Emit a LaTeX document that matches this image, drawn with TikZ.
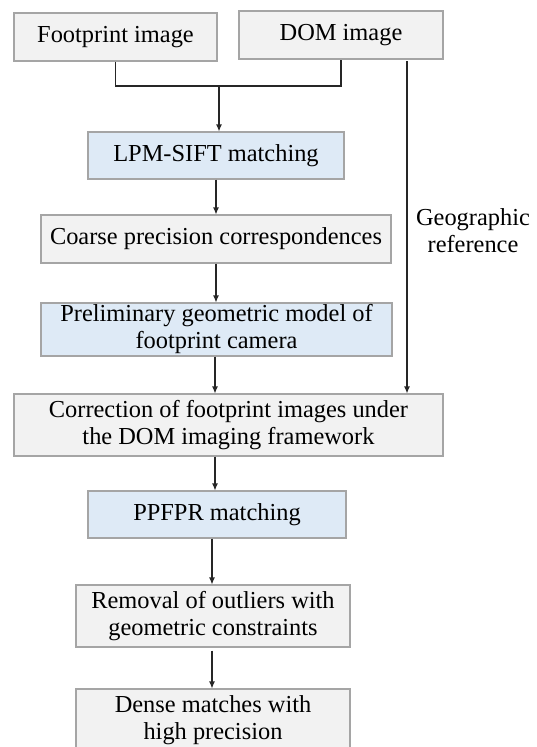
\documentclass[tikz,border=0pt]{standalone}
\usepackage{fontspec}
\setmainfont{Liberation Serif}
\usetikzlibrary{arrows.meta,calc}
\definecolor{boxgray}{HTML}{F2F2F2}
\definecolor{boxblue}{HTML}{DEEAF6}
\definecolor{edgegray}{HTML}{A5A5A5}
\tikzset{
  box/.style={draw=edgegray, line width=1.1pt, fill=boxgray, inner sep=0pt, align=center,
    font=\fontsize{24.4}{27}\selectfont},
  bluebox/.style={box, fill=boxblue},
  conn/.style={line width=1.1pt, draw=black!85},
  arr/.style={conn, -{Latex[length=7pt,width=6pt]}},
}
\begin{document}
\begin{tikzpicture}[x=1pt,y=-1pt]
\useasboundingbox (0,0) rectangle (536,747);
\clip (0,0) rectangle (536,747);
\node[box, minimum width=203pt, minimum height=48pt] (fp) at (115.5,37) {Footprint image};
\node[box, minimum width=204pt, minimum height=48pt] (dom) at (341,35) {DOM image};
\node[bluebox, minimum width=256pt, minimum height=47pt] (lpm) at (216,155.5) {LPM-SIFT matching};
\node[box, minimum width=350pt, minimum height=48pt] (coarse) at (216,239) {Coarse precision correspondences};
\node[bluebox, minimum width=351pt, minimum height=53pt] (prelim) at (216.5,329.5) {Preliminary geometric model of\\footprint camera};
\node[box, minimum width=429pt, minimum height=62pt] (corr) at (228.5,425) {Correction of footprint images under\\the DOM imaging framework};
\node[bluebox, minimum width=258pt, minimum height=47pt] (ppfpr) at (217,514.5) {PPFPR matching};
\node[box, minimum width=274pt, minimum height=62pt] (rem) at (213,616) {Removal of outliers with\\geometric constraints};
\node[box, minimum width=274pt, minimum height=62pt] (dense) at (213,720) {Dense matches with\\high precision};
\node[align=center, inner sep=0pt, font=\fontsize{24.4}{27}\selectfont] (geo) at (473,231) {Geographic\\reference};
\coordinate (join) at (219,86);
\coordinate (geostart) at (407,61);
\draw[conn] (fp.south) |- (join) -| (dom.south);
\draw[arr] (join) -- (join |- lpm.north);
\draw[arr] (lpm.south -| 216,0) -- (coarse.north -| 216,0);
\draw[arr] (coarse.south -| 216,0) -- (prelim.north -| 216,0);
\draw[arr] (prelim.south -| 215,0) -- (corr.north -| 215,0);
\draw[arr] (geostart) -- (geostart |- corr.north);
\draw[arr] (corr.south -| 215,0) -- (ppfpr.north -| 215,0);
\draw[arr] (ppfpr.south -| 212,0) -- (rem.north -| 212,0);
\draw[arr] ($(rem.south -| 212,0)+(0,3)$) -- (dense.north -| 212,0);
\end{tikzpicture}
\end{document}
